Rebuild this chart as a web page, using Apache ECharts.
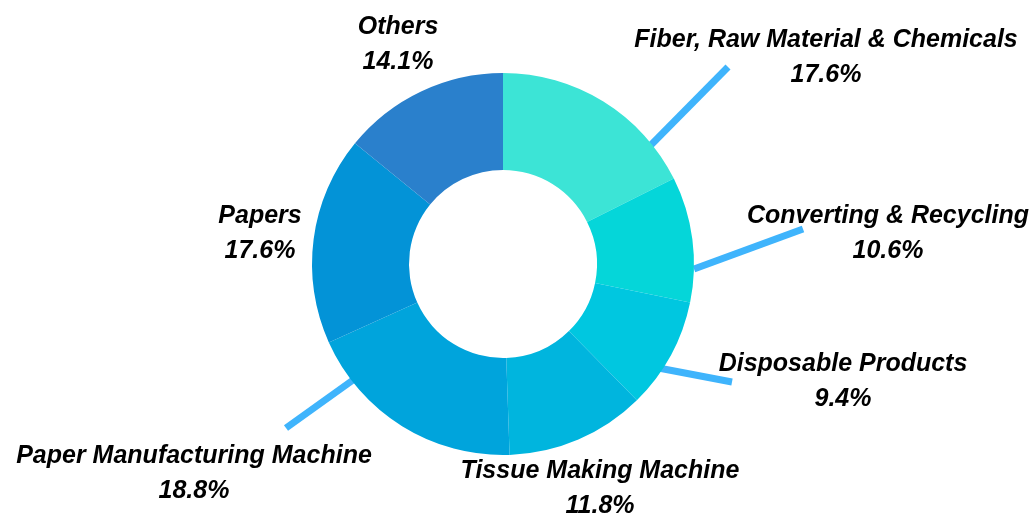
<!DOCTYPE html>
<html>
<head>
<meta charset="utf-8">
<script src="https://cdn.jsdelivr.net/npm/echarts@6/dist/echarts.min.js"></script>
<style>
  html, body { margin: 0; padding: 0; background: #fff; }
  #main { width: 1036px; height: 521px; }
</style>
</head>
<body>
<div id="main"></div>
<script>
// segments, clockwise from 12 o'clock
var names = ['Fiber, Raw Material & Chemicals', 'Converting & Recycling', 'Disposable Products',
             'Tissue Making Machine', 'Paper Manufacturing Machine', 'Papers', 'Others'];
var shares = [17.6, 10.6, 9.4, 11.8, 18.8, 17.6, 14.1];
var colors = ['#3ce4d6', '#05d6d9', '#00c7e0', '#00b5de', '#00a4dc', '#0393d7', '#2a80cc'];

// where each label sits (centre of the two lines) and its pointer line, if any
var labelPos = [[826, 58], [888, 234], [843, 382], [600, 489], [194, 474], [260, 234], [398, 45]];
var pointers = [
    [[645, 151], [728, 67]],
    [[694, 269], [803, 229]],
    [[648, 366], [732, 382]],
    null,
    [[360, 375], [286, 428]],
    null,
    null
];

var myChart = echarts.init(document.getElementById('main'));

var data = names.map(function (n, i) {
    return {
        name: n,
        value: shares[i],
        itemStyle: { color: colors[i] },
        labelLine: { show: pointers[i] != null }
    };
});

var option = {
    animation: false,
    series: [{
        type: 'pie',
        center: [503, 264],
        radius: [94, 191],
        startAngle: 90,
        clockwise: true,
        avoidLabelOverlap: false,
        data: data,
        label: {
            show: true,
            position: 'outside',
            formatter: '{b}\n{c}%',
            color: '#000',
            fontFamily: 'Liberation Sans',
            fontStyle: 'italic',
            fontWeight: 'bold',
            fontSize: 25,
            lineHeight: 35,
            align: 'center'
        },
        labelLine: {
            length: 40,
            length2: 0,
            lineStyle: { color: '#3fb4fc', width: 7 }
        },
        labelLayout: function (p) {
            var i = p.dataIndex;
            var res = {
                x: labelPos[i][0],
                y: labelPos[i][1],
                align: 'center',
                verticalAlign: 'middle'
            };
            if (pointers[i]) res.labelLinePoints = [pointers[i][0], pointers[i][1], pointers[i][1]];
            return res;
        }
    }]
};

myChart.setOption(option);
</script>
</body>
</html>
